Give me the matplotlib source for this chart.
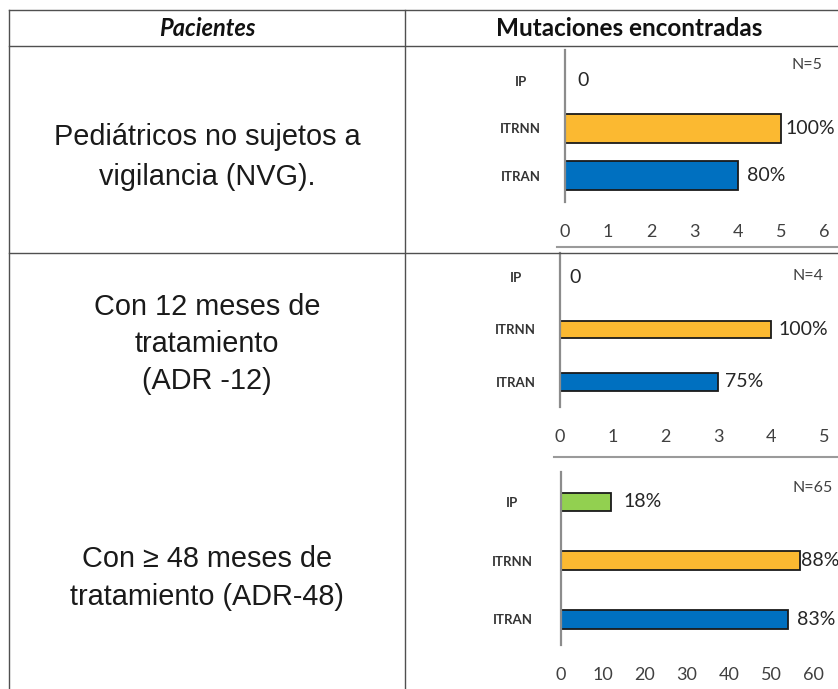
import matplotlib.pyplot as plt
from matplotlib.lines import Line2D

# --- data ---
categories = ['ITRAN', 'ITRNN', 'IP']   # bottom to top
bar_colors = ['#0070C0', '#FBB931', '#92D050']

nvg_values = [4, 5, 0]
nvg_labels = ['80%', '100%', '0']
nvg_n = 'N=5'

adr12_values = [3, 4, 0]
adr12_labels = ['75%', '100%', '0']
adr12_n = 'N=4'

adr48_values = [54, 57, 12]
adr48_labels = ['83%', '88%', '18%']
adr48_n = 'N=65'

row_texts = ['Pediátricos no sujetos a\nvigilancia (NVG).',
             'Con 12 meses de\ntratamiento\n(ADR -12)',
             'Con ≥ 48 meses de\ntratamiento (ADR-48)']

W, H = 838, 689
fig = plt.figure(figsize=(W / 100, H / 100), dpi=100)
fig.patch.set_facecolor('white')


def fx(x):
    return x / W


def fy(y):
    return 1 - y / H


def hline(y, x0, x1, color='#505050', lw=1.0):
    fig.add_artist(Line2D([fx(x0), fx(x1)], [fy(y), fy(y)], color=color, lw=lw))


def vline(x, y0, y1, color='#505050', lw=1.0):
    fig.add_artist(Line2D([fx(x), fx(x)], [fy(y0), fy(y1)], color=color, lw=lw))


# --- table grid ---
hline(10, 9, W)
hline(46, 9, W)
hline(253, 9, W)
vline(9, 10, H)
vline(405, 10, H)

# headers
fig.text(fx(207), fy(28), 'Pacientes', ha='center', va='center', fontsize=17,
         fontweight='bold', style='italic', family='Lato', color='#111111')
fig.text(fx(629), fy(29), 'Mutaciones encontradas', ha='center', va='center',
         fontsize=17.5, fontweight='bold', family='Lato', color='#111111')

# left column texts
row_centers = [157, 344, 578]
row_spacing = [1.55, 1.42, 1.42]
for txt, yc, ls in zip(row_texts, row_centers, row_spacing):
    fig.text(fx(207), fy(yc), txt, ha='center', va='center', fontsize=20.8,
             family='Liberation Sans', color='#1a1a1a', linespacing=ls,
             multialignment='center')


def make_chart(box, xlim, ylim, xticks, values, labels, offsets, n_text, n_pos,
               bar_h, tick_pad, cat_pad):
    left, top, right, bottom = box
    ax = fig.add_axes([fx(left), fy(bottom), fx(right - left), (bottom - top) / H])
    ax.barh(range(len(categories)), values, height=bar_h, color=bar_colors,
            edgecolor='#1a1a1a', linewidth=[1.3 if v > 0 else 0 for v in values])
    ax.set_xlim(*xlim)
    ax.set_ylim(*ylim)
    for s in ['top', 'right', 'bottom']:
        ax.spines[s].set_visible(False)
    ax.spines['left'].set_color('#8c8c8c')
    ax.spines['left'].set_linewidth(1.6)
    ax.set_xticks(xticks)
    ax.set_xticklabels([str(t) for t in xticks], fontsize=13, family='Lato',
                       color='#404040')
    ax.tick_params(axis='x', length=0, pad=tick_pad)
    ax.set_yticks(range(len(categories)))
    ax.set_yticklabels(categories, fontsize=9.5, family='Lato', fontweight='bold',
                       color='#333333', ha='center')
    ax.tick_params(axis='y', length=0, pad=cat_pad)
    for i, (v, lab, off) in enumerate(zip(values, labels, offsets)):
        ax.annotate(lab, (v, i), xytext=(off * 0.72, 0), textcoords='offset points',
                    ha='left', va='center', fontsize=14, family='Lato',
                    color='#262626')
    ax.text(n_pos[0], n_pos[1], n_text, ha='center', va='center', fontsize=11.5,
            family='Lato', color='#404040')
    ax.patch.set_alpha(0)
    return ax


make_chart((565, 50, 824, 202), (0, 6), (-0.55, 2.65), [0, 1, 2, 3, 4, 5, 6],
           nvg_values, nvg_labels, [9, 5, 12], nvg_n, (5.6, 2.34),
           0.61, 16, 32)
hline(247, 557, W, color='#9a9a9a', lw=1.5)

make_chart((560, 253, 824, 407), (0, 5), (-0.48, 2.46), [0, 1, 2, 3, 4, 5],
           adr12_values, adr12_labels, [7, 7, 9], adr12_n, (4.7, 2.02),
           0.34, 16, 32)
hline(457, 554, W, color='#9a9a9a', lw=1.5)

make_chart((561, 472, 813, 645), (0, 60), (-0.44, 2.51), [0, 10, 20, 30, 40, 50, 60],
           adr48_values, adr48_labels, [9, 1, 12], adr48_n, (59.8, 2.24),
           0.32, 16, 35)

fig.savefig('out.png', dpi=100)
